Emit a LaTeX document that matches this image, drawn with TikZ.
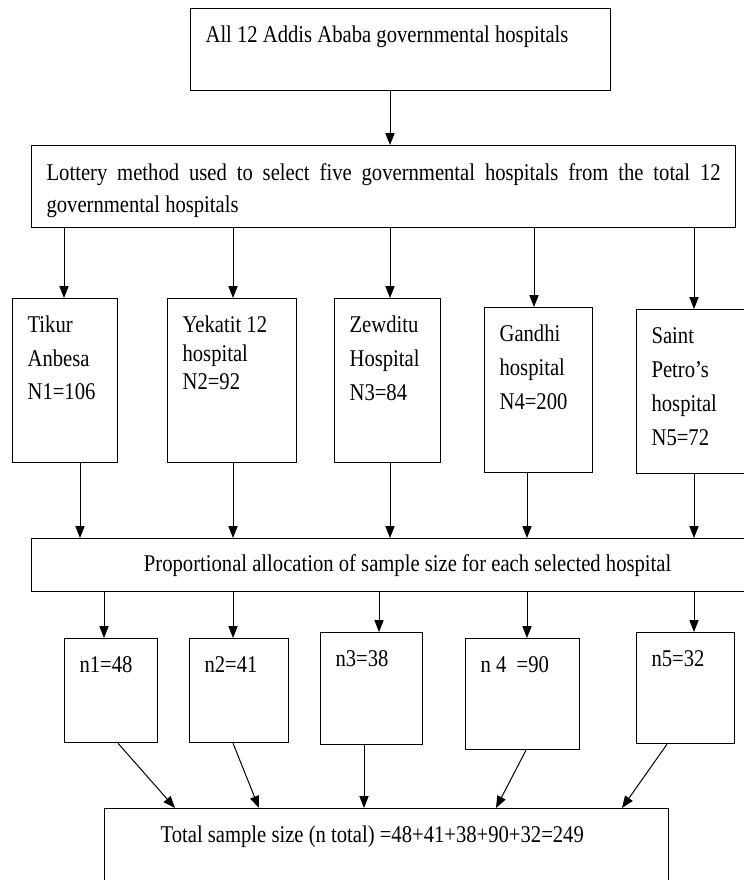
\documentclass[tikz,border=0pt]{standalone}
\usepackage{fontspec}
\setmainfont{Liberation Serif}[FakeStretch=0.86]
\usetikzlibrary{arrows.meta}
\newcommand{\celltext}[4]{\parbox[t][\dimexpr#2-17.6pt\relax][t]{\dimexpr#1-15pt\relax}{\fontsize{12pt}{#3}\selectfont#4}}

\tikzset{
	hbox/.style={draw, line width=0.6pt, anchor=north west, inner xsep=7.5pt, inner ysep=8.8pt},
	link/.style={-{Triangle[length=6pt,width=4.6pt]}, line width=0.5pt},
}

\begin{document}
\begin{tikzpicture}[x=0.5pt, y=-0.5pt, font=\fontsize{12pt}{16pt}\selectfont]
	\useasboundingbox (0,0) rectangle (744,880);
	\node[hbox] (all) at (190,8) {\celltext{210pt}{41pt}{16pt}{All 12 Addis Ababa governmental hospitals}};
	\node[hbox] (lottery) at (31,145) {\celltext{352pt}{41pt}{16pt}{Lottery method used to select five governmental hospitals from the total 12\linebreak governmental hospitals}};
	\foreach \n/\x/\y/\w/\h/\s/\txt in {tikur/12/298/52.5/82/16.75/{Tikur\\Anbesa\\N1=106}, yekatit/167/298/64.5/82/14.25/{Yekatit 12\\hospital\\N2=92}, zewditu/334/298/53/82/17/{Zewditu\\Hospital\\N3=84}, gandhi/484/307/54/82.5/17/{Gandhi\\hospital\\N4=200}, saint/636/309/56/82/17/{Saint\\Petro’s\\hospital\\N5=72}}
		\node[hbox] (\n) at (\x,\y) {\celltext{\w pt}{\h pt}{\s pt}{\txt}};
	\node[draw, line width=0.6pt, anchor=north west, minimum width=376pt, minimum height=26.5pt, inner sep=0pt] (prop) at (31,538) {Proportional allocation of sample size for each selected hospital};
	\foreach \n/\x/\y/\w/\h/\txt in {n1/64/638/46.5/52/{n1=48}, n2/189/638/49.5/52/{n2=41}, n3/320/632/51/56/{n3=38}, n4/465/638/57/55.5/{n 4~~=90}, n5/636/632/49/55.5/{n5=32}}
		\node[hbox] (\n) at (\x,\y) {\celltext{\w pt}{\h pt}{16pt}{\txt}};
	\node[hbox] (total) at (104,808) {\celltext{282pt}{38pt}{16pt}{\hspace*{20.5pt}Total sample size (n total) =48+41+38+90+32=249}};
	% arrows
	\draw[link] (390,0 |- all.south) -- (390,0 |- lottery.north);
	\foreach \n/\x in {tikur/64, yekatit/233, zewditu/390, gandhi/534, saint/694}
		\draw[link] (\x,0 |- lottery.south) -- (\x,0 |- \n.north);
	\foreach \n/\x in {tikur/80, yekatit/233, zewditu/390, gandhi/527, saint/694}
		\draw[link] (\x,0 |- \n.south) -- (\x,0 |- prop.north);
	\foreach \n/\x in {n1/104, n2/233, n3/379, n4/527, n5/694}
		\draw[link] (\x,0 |- prop.south) -- (\x,0 |- \n.north);
	\foreach \n/\a/\b in {n1/118/175, n2/233/259, n3/364/364, n4/526/496, n5/667/622}
		\draw[link] (\a,0 |- \n.south) -- (\b,0 |- total.north);
\end{tikzpicture}
\end{document}
